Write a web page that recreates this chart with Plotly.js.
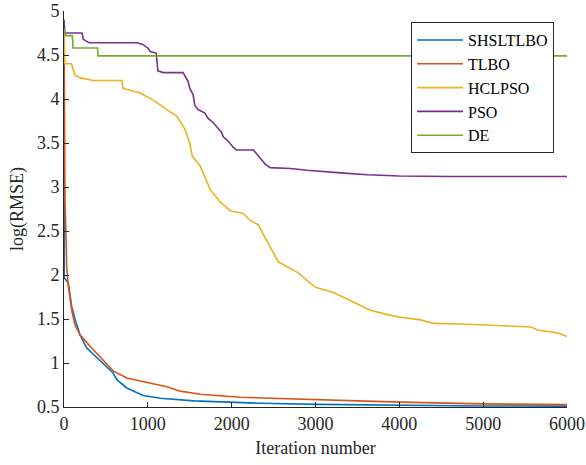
<!DOCTYPE html>
<html>
<head>
<meta charset="utf-8">
<script src="https://cdn.plot.ly/plotly-3.0.1.min.js"></script>
<style>html,body{margin:0;padding:0;background:#fff;}#chart{width:586px;height:465px;}</style>
</head>
<body>
<div id="chart"></div>
<script>
// Series names
const seriesNames = ["SHSLTLBO", "TLBO", "HCLPSO", "PSO", "DE"];

// SHSLTLBO
const shslX = [0, 3, 51, 92, 131, 191, 271, 430, 586, 630, 749, 944, 1150, 1550, 1950, 2342, 3024, 4014, 5000, 6000];
const shslY = [4.8, 1.97, 1.91, 1.64, 1.50, 1.32, 1.17, 1.03, 0.886, 0.81, 0.716, 0.63, 0.60, 0.57, 0.553, 0.542, 0.53, 0.518, 0.512, 0.51];

// TLBO
const tlboX = [0, 12, 25, 32, 51, 92, 131, 191, 311, 430, 586, 749, 988, 1227, 1386, 1625, 2103, 3024, 4014, 5006, 6000];
const tlboY = [4.9, 2.85, 2.40, 2.09, 1.88, 1.60, 1.43, 1.32, 1.19, 1.07, 0.91, 0.83, 0.78, 0.73, 0.68, 0.645, 0.61, 0.58, 0.555, 0.535, 0.527];

// HCLPSO
const hclX = [0, 10, 90, 130, 200, 350, 690, 705, 900, 1060, 1180, 1350, 1440, 1500, 1530, 1625, 1744, 1864, 1983, 2139, 2222, 2318, 2401, 2557, 2784, 2999, 3214, 3453, 3656, 3859, 4014, 4253, 4409, 4815, 5209, 5568, 5651, 5890, 6000];
const hclY = [4.78, 4.40, 4.40, 4.27, 4.24, 4.21, 4.21, 4.12, 4.07, 3.99, 3.91, 3.80, 3.66, 3.50, 3.35, 3.24, 2.97, 2.83, 2.73, 2.70, 2.62, 2.57, 2.42, 2.15, 2.03, 1.86, 1.80, 1.69, 1.60, 1.55, 1.52, 1.49, 1.45, 1.44, 1.42, 1.41, 1.375, 1.34, 1.30];

// PSO
const psoX = [0, 10, 215, 230, 260, 300, 870, 940, 1000, 1030, 1100, 1111, 1120, 1183, 1420, 1450, 1480, 1500, 1540, 1560, 1600, 1680, 1720, 1780, 1830, 1880, 1900, 1960, 2020, 2060, 2260, 2300, 2340, 2400, 2460, 2700, 2900, 3300, 3620, 4000, 4600, 6000];
const psoY = [4.9, 4.75, 4.75, 4.68, 4.66, 4.64, 4.64, 4.62, 4.58, 4.54, 4.52, 4.35, 4.32, 4.30, 4.30, 4.25, 4.20, 4.12, 4.05, 3.93, 3.88, 3.84, 3.78, 3.73, 3.68, 3.62, 3.57, 3.52, 3.45, 3.42, 3.42, 3.38, 3.33, 3.26, 3.22, 3.21, 3.19, 3.16, 3.14, 3.125, 3.12, 3.12];

// DE
const deX = [0, 20, 100, 108, 400, 406, 6000];
const deY = [4.8, 4.72, 4.72, 4.58, 4.58, 4.49, 4.49];

// Axis ticks
const xTicks = [0, 1000, 2000, 3000, 4000, 5000, 6000];
const yTicks = [0.5, 1, 1.5, 2, 2.5, 3, 3.5, 4, 4.5, 5];

const colors = ["#0072BD", "#D95319", "#EDB120", "#7E2F8E", "#77AC30"];
const xs = [shslX, tlboX, hclX, psoX, deX];
const ys = [shslY, tlboY, hclY, psoY, deY];

const traces = seriesNames.map((n, i) => ({
  x: xs[i], y: ys[i], name: n, type: "scatter", mode: "lines",
  line: {color: colors[i], width: 1.6}
}));

const serif = "Liberation Serif, Times New Roman, serif";
const tickFont = {family: serif, size: 18, color: "#262626"};
const titleFont = {family: serif, size: 18, color: "#262626"};
const layout = {
  width: 586, height: 465,
  margin: {l: 64, r: 19, t: 11, b: 58},
  paper_bgcolor: "#fff", plot_bgcolor: "#fff",
  showlegend: true,
  xaxis: {
    range: [0, 6000], tickvals: xTicks, ticktext: xTicks.map(String),
    ticks: "inside", ticklen: 5, tickcolor: "#262626", tickwidth: 1,
    showline: true, linecolor: "#262626", linewidth: 1, mirror: false,
    showgrid: false, zeroline: false, tickfont: tickFont,
    title: {text: "Iteration number", font: titleFont, standoff: 8}
  },
  yaxis: {
    range: [0.5, 5], tickvals: yTicks, ticktext: yTicks.map(String),
    ticks: "inside", ticklen: 5, tickcolor: "#262626", tickwidth: 1,
    showline: true, linecolor: "#262626", linewidth: 1, mirror: false,
    showgrid: false, zeroline: false, tickfont: tickFont,
    title: {text: "log(RMSE)", font: titleFont, standoff: 8}
  },
  legend: {
    x: 0.69, y: 0.972, xanchor: "left", yanchor: "top",
    bgcolor: "#fff", bordercolor: "#262626", borderwidth: 1,
    font: {family: serif, size: 16, color: "#000"},
    tracegroupgap: 0, itemwidth: 46
  }
};

Plotly.newPlot("chart", traces, layout, {displayModeBar: false, staticPlot: true});
</script>
</body>
</html>
